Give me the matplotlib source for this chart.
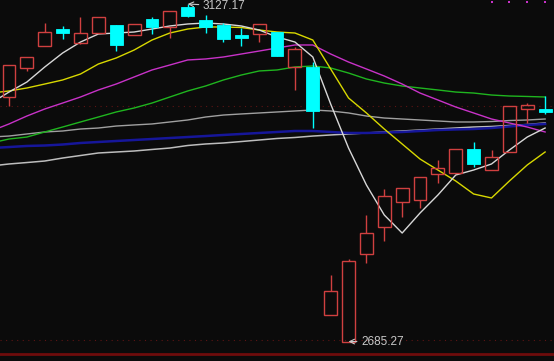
import numpy as np
import matplotlib
matplotlib.use('Agg')
import matplotlib.pyplot as plt

# daily candles (31 sessions)
opens = [3005.4, 3043.4, 3072.2, 3094.4, 3076.1, 3089.2, 3099.7, 3086.6, 3107.5, 3097.0,
         3123.2, 3106.2, 3099.7, 3086.6, 3087.9, 3090.5, 3044.7, 3044.7, 2720.0, 2685.27,
         2799.8, 2835.2, 2867.9, 2870.5, 2904.6, 2905.9, 2937.3, 2909.8, 2933.4, 2989.7, 2989.7]
closes = [3047.3, 3057.8, 3090.5, 3089.2, 3089.2, 3110.1, 3073.5, 3101.0, 3097.0, 3118.0,
          3111.5, 3097.0, 3081.3, 3082.6, 3101.0, 3059.1, 3068.2, 2987.1, 2751.4, 2790.7,
          2827.3, 2875.8, 2886.3, 2900.7, 2912.4, 2937.3, 2917.7, 2926.8, 2993.6, 2994.9, 2985.8]
highs = [3047.3, 3057.8, 3102.3, 3098.4, 3110.1, 3110.1, 3099.7, 3101.0, 3110.1, 3118.0,
         3127.17, 3112.8, 3102.3, 3095.7, 3101.0, 3090.5, 3070.9, 3051.2, 2772.3, 2793.3,
         2850.9, 2884.9, 2886.3, 2900.7, 2922.9, 2937.3, 2946.5, 2936.0, 2993.6, 2997.5, 3006.7]
lows = [2993.6, 3039.4, 3072.2, 3081.3, 3074.8, 3089.2, 3065.6, 3086.6, 3087.9, 3082.6,
        3110.1, 3089.2, 3077.4, 3072.2, 3077.4, 3059.1, 3014.6, 2964.8, 2720.0, 2685.27,
        2788.1, 2816.9, 2848.3, 2860.1, 2892.8, 2905.9, 2913.7, 2909.8, 2933.4, 2971.4, 2983.1]

# moving averages, starting one session before the first visible candle
ma5 = [2997.5, 3011.9, 3025.0, 3044.7, 3063.0, 3077.4, 3087.9, 3089.2, 3090.5, 3094.4,
       3098.4, 3101.0, 3102.3, 3101.0, 3098.4, 3093.1, 3084.0, 3077.4, 3057.8, 2996.2,
       2938.6, 2890.2, 2850.9, 2827.3, 2853.5, 2877.1, 2903.3, 2909.8, 2917.7, 2936.0,
       2953.0, 2964.8]
ma10 = [3010.6, 3013.3, 3017.2, 3022.4, 3027.7, 3035.5, 3048.6, 3056.5, 3066.9, 3080.0,
        3089.2, 3094.4, 3097.1, 3097.1, 3096.4, 3093.1, 3090.5, 3089.2, 3080.0, 3042.1,
        3004.1, 2984.5, 2963.5, 2943.9, 2924.2, 2909.8, 2895.4, 2878.4, 2873.2, 2895.4,
        2916.4, 2933.4]
ma20 = [2960.9, 2970.1, 2980.5, 2989.7, 2997.5, 3005.4, 3014.6, 3022.4, 3031.6, 3040.8,
        3047.3, 3053.9, 3055.2, 3057.8, 3061.7, 3065.6, 3069.6, 3073.5, 3073.5, 3061.7,
        3051.2, 3042.1, 3032.9, 3022.4, 3010.6, 3001.5, 2992.3, 2984.5, 2976.6, 2971.4,
        2966.1, 2959.6]
ma30 = [2945.2, 2950.4, 2953.0, 2959.6, 2966.1, 2972.7, 2979.2, 2985.8, 2991.0, 2997.5,
        3005.4, 3013.3, 3019.8, 3027.7, 3034.2, 3039.5, 3040.8, 3044.7, 3046.0, 3043.4,
        3036.8, 3029.0, 3023.7, 3019.8, 3017.2, 3014.6, 3011.9, 3010.6, 3008.0, 3006.7,
        3006.1, 3005.4]
ma60 = [2953.0, 2954.3, 2957.0, 2959.6, 2960.9, 2963.5, 2964.8, 2967.4, 2968.8, 2970.1,
        2972.7, 2975.3, 2979.2, 2981.8, 2983.2, 2984.5, 2985.8, 2987.1, 2988.4, 2987.1,
        2984.5, 2980.5, 2977.9, 2976.6, 2975.3, 2974.0, 2972.7, 2972.7, 2973.3, 2974.6,
        2975.3, 2976.6]
ma120 = [2938.6, 2939.9, 2941.3, 2941.9, 2943.2, 2945.2, 2946.5, 2947.8, 2949.1, 2950.4,
         2951.7, 2953.0, 2954.3, 2955.7, 2957.0, 2958.3, 2959.6, 2960.9, 2960.9, 2959.6,
         2958.3, 2958.3, 2958.9, 2959.6, 2960.9, 2962.2, 2962.9, 2963.5, 2964.8, 2966.8,
         2968.8, 2970.1]
ma250 = [2915.1, 2917.7, 2919.6, 2921.6, 2925.5, 2928.8, 2932.1, 2933.4, 2934.7, 2936.7,
         2938.6, 2941.9, 2943.9, 2945.2, 2947.1, 2949.1, 2951.1, 2952.4, 2954.3, 2955.7,
         2957.0, 2958.3, 2959.6, 2960.9, 2962.2, 2963.5, 2964.8, 2966.1, 2966.8, 2968.1,
         2969.4, 2971.4]

marker_days = [27, 28, 29, 30]
hi_label = '3127.17'
lo_label = '2685.27'

bg = '#0b0b0b'
up_col = '#d04040'
dn_col = '#00ffff'

fig = plt.figure(figsize=(5.54, 3.61), dpi=100, facecolor=bg)
ax = fig.add_axes([0, 0, 1, 1])
ax.set_facecolor(bg)

x = np.arange(len(opens))
xm = np.arange(-1, len(opens))

# grid-ish red dotted lines and bottom border
ax.axhline(2993.6, color='#5e1414', lw=0.8, ls=(0, (1, 4)), zorder=1)
ax.axhline(2687.3, color='#5e1414', lw=0.8, ls=(0, (1, 4)), zorder=1)
ax.axhline(2669.5, color='#6e0c0c', lw=2, zorder=1)

lines = [(ma250, '#bdbdbd', 1.1), (ma120, '#16169a', 1.8), (ma60, '#a0a0a0', 1.0),
         (ma30, '#1fb51f', 1.0), (ma20, '#c832c8', 1.0), (ma10, '#d8d800', 1.0),
         (ma5, '#d8d8d8', 1.0)]
for vals, col, lw in lines:
    ax.plot(xm, vals, color=col, lw=lw, zorder=2)

w = 0.72
for i in x:
    o, h, l, c = opens[i], highs[i], lows[i], closes[i]
    if c >= o:
        ax.vlines(i, c, h, color=up_col, lw=1, zorder=3)
        ax.vlines(i, l, o, color=up_col, lw=1, zorder=3)
        ax.add_patch(plt.Rectangle((i - w / 2, o), w, c - o, facecolor='none',
                                   edgecolor=up_col, lw=1, zorder=3))
    else:
        ax.vlines(i, l, h, color=dn_col, lw=1, zorder=3)
        ax.add_patch(plt.Rectangle((i - w / 2, c), w, max(o - c, 2.5), facecolor=dn_col,
                                   edgecolor=dn_col, lw=0.6, zorder=4))

ax.scatter(marker_days, [3130.0] * len(marker_days), marker='s', s=3, color='#c832c8',
           linewidths=0, zorder=5)

i_hi = int(np.argmax(highs))
i_lo = int(np.argmin(lows))
ax.annotate(hi_label, xy=(i_hi, highs[i_hi]), xytext=(i_hi + 0.85, highs[i_hi] - 2.5),
            color='#c8c8c8', fontsize=8.5, family='Liberation Sans', va='center', ha='left',
            arrowprops=dict(arrowstyle='->', color='#c8c8c8', lw=0.8, shrinkA=1, shrinkB=0))
ax.annotate(lo_label, xy=(i_lo, lows[i_lo]), xytext=(i_lo + 0.7, lows[i_lo] - 0.5),
            color='#c8c8c8', fontsize=8.5, family='Liberation Sans', va='center', ha='left',
            arrowprops=dict(arrowstyle='->', color='#c8c8c8', lw=0.8, shrinkA=1, shrinkB=0))

ax.set_xlim(-0.504, 30.497)
ax.set_ylim(2659.75, 3132.41)
ax.axis('off')

fig.savefig('out.png', dpi=100, facecolor=bg)
